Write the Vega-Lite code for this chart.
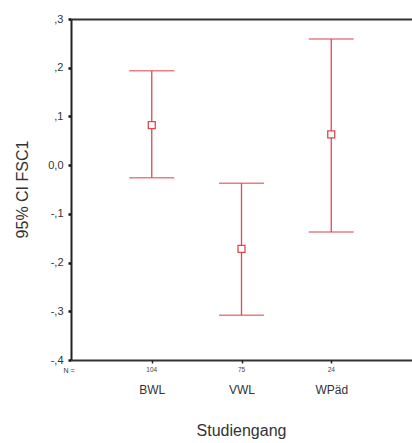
{
  "$schema": "https://vega.github.io/schema/vega-lite/v6.json",
  "width": 341,
  "height": 341,
  "autosize": {"type": "none"},
  "padding": {"left": 71, "top": 19, "right": 0, "bottom": 83},
  "background": "white",
  "view": {"stroke": null, "strokeWidth": 0},
  "title": {
    "text": "Studiengang",
    "orient": "bottom",
    "anchor": "middle",
    "frame": "group",
    "offset": 28,
    "font": "Liberation Sans",
    "fontSize": 16,
    "fontWeight": "normal",
    "color": "#333"
  },
  "config": {
    "view": {"stroke": null, "strokeWidth": 0},
    "font": "Liberation Sans",
    "axis": {"labelFont": "Liberation Sans", "titleFont": "Liberation Sans", "titleFontWeight": "normal", "labelColor": "#333", "titleColor": "#333"}
  },
  "data": {
    "values": [
      {"studiengang": "BWL", "n": 104, "mean": 0.082, "lo": -0.026, "hi": 0.194},
      {"studiengang": "VWL", "n": 75, "mean": -0.172, "lo": -0.308, "hi": -0.037},
      {"studiengang": "WPäd", "n": 24, "mean": 0.063, "lo": -0.137, "hi": 0.259}
    ]
  },
  "layer": [
    {
      "mark": {"type": "point", "shape": "square", "filled": false, "color": "#e0474f", "size": 49, "opacity": 0},
      "encoding": {
        "x": {
          "field": "studiengang",
          "type": "nominal",
          "sort": null,
          "scale": {"type": "point", "padding": 0.9},
          "axis": {
            "orient": "bottom",
            "grid": false,
            "domain": false,
            "ticks": true,
            "tickSize": 3,
            "tickWidth": 1.5,
            "tickColor": "#222",
            "labelAngle": 0,
            "labelFontSize": 12,
            "labelPadding": 21,
            "title": "N =",
            "titleFontSize": 7,
            "titleAnchor": null,
            "titleAlign": "left",
            "titleBaseline": "middle",
            "titleX": -8,
            "titleY": 10
          }
        },
        "y": {
          "field": "mean",
          "type": "quantitative",
          "scale": {"domain": [-0.4, 0.3], "nice": false, "zero": false},
          "axis": {
            "orient": "left",
            "values": [-0.4, -0.3, -0.2, -0.1, 0, 0.1, 0.2, 0.3],
            "labelExpr": "datum.value == 0 ? '0,0' : replace(replace(format(datum.value, '.1f'), '0.', ','), '\u2212', '-')",
            "labelFontSize": 11,
            "labelPadding": 5,
            "tickSize": 3,
            "tickWidth": 2.5,
            "tickColor": "#111",
            "domainColor": "#222",
            "domainWidth": 2,
            "grid": true,
            "gridColor": "#333",
            "gridWidth": 2,
            "gridOpacity": {"condition": {"test": "datum.value > 0.29 || datum.value < -0.39", "value": 1}, "value": 0},
            "title": "95% CI FSC1",
            "titleFontSize": 16,
            "titleX": -49,
            "titleY": 170,
            "titleAngle": -90,
            "titleBaseline": "middle",
            "titleAlign": "center"
          }
        }
      }
    },
    {
      "mark": {"type": "rule", "color": "#e0474f", "strokeWidth": 1.3},
      "encoding": {
        "x": {"field": "studiengang", "type": "nominal"},
        "y": {"field": "lo", "type": "quantitative"},
        "y2": {"field": "hi"}
      }
    },
    {
      "mark": {"type": "tick", "color": "#e0474f", "thickness": 1.5, "size": 45},
      "encoding": {
        "x": {"field": "studiengang", "type": "nominal"},
        "y": {"field": "lo", "type": "quantitative"}
      }
    },
    {
      "mark": {"type": "tick", "color": "#e0474f", "thickness": 1.5, "size": 45},
      "encoding": {
        "x": {"field": "studiengang", "type": "nominal"},
        "y": {"field": "hi", "type": "quantitative"}
      }
    },
    {
      "mark": {"type": "text", "fontSize": 6.5, "color": "#444", "baseline": "middle", "dy": 10},
      "encoding": {
        "x": {"field": "studiengang", "type": "nominal"},
        "y": {"datum": -0.4, "type": "quantitative"},
        "text": {"field": "n", "type": "quantitative"}
      }
    },
    {
      "mark": {"type": "point", "shape": "square", "filled": false, "color": "#e0474f", "size": 49, "strokeWidth": 1.3, "fill": "white", "fillOpacity": 1},
      "encoding": {
        "x": {"field": "studiengang", "type": "nominal"},
        "y": {"field": "mean", "type": "quantitative"}
      }
    }
  ]
}
